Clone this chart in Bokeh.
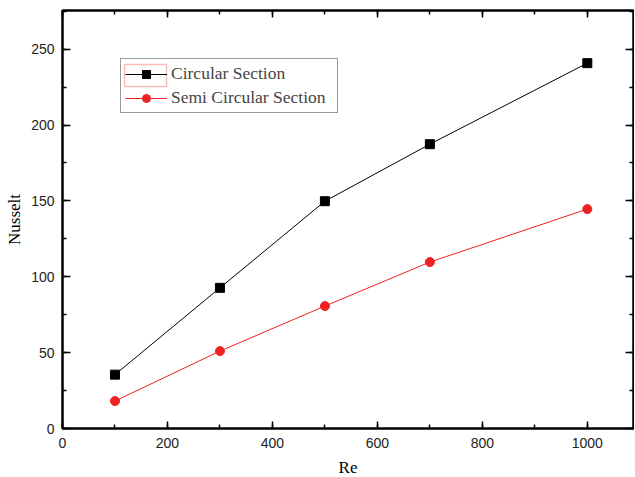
from bokeh.plotting import figure
from bokeh.models import (LinearAxis, SingleIntervalTicker, Legend, LegendItem,
                          BoxAnnotation, Range1d)
from bokeh.embed import file_html
from bokeh.resources import INLINE

re_vals = [100, 300, 500, 700, 1000]
circular = [35.5, 92.7, 149.8, 187.4, 240.8]
semi_circular = [18.1, 51.0, 80.7, 109.7, 144.6]
series_names = ["Circular Section", "Semi Circular Section"]
x_label = "Re"
y_label = "Nusselt"

p = figure(frame_width=571, frame_height=418, output_backend="svg",
           toolbar_location=None, x_range=Range1d(0, 1088), y_range=Range1d(0, 275.5),
           min_border_left=62, min_border_top=10, min_border_right=1, min_border_bottom=48)
p.xaxis.visible = False
p.yaxis.visible = False
p.grid.visible = False
p.outline_line_color = "black"
p.outline_line_width = 2
p.background_fill_color = "white"
p.border_fill_color = "white"

def style(ax, labels=True):
    ax.axis_line_color = "black"
    ax.axis_line_width = 2
    ax.major_tick_in = 7
    ax.major_tick_out = 0
    ax.minor_tick_in = 4
    ax.minor_tick_out = 0
    ax.major_tick_line_width = 1.5
    ax.minor_tick_line_width = 1.5
    ax.major_tick_line_color = "black"
    ax.minor_tick_line_color = "black"
    ax.major_label_text_font = "Liberation Sans"
    ax.major_label_text_font_size = "14px"
    ax.major_label_text_color = "#222222"
    ax.axis_label_text_font = "Liberation Serif"
    ax.axis_label_text_font_size = "17px"
    ax.axis_label_text_font_style = "normal"
    ax.axis_label_text_color = "black"
    if not labels:
        ax.major_label_text_font_size = "0px"
        ax.major_label_text_alpha = 0

xt = lambda: SingleIntervalTicker(interval=200, num_minor_ticks=2)
yt = lambda: SingleIntervalTicker(interval=50, num_minor_ticks=2)

bx = LinearAxis(ticker=xt(), axis_label=x_label)
style(bx)
bx.major_label_standoff = 9
bx.axis_label_standoff = 7
p.add_layout(bx, "below")

ly = LinearAxis(ticker=yt(), axis_label=y_label)
style(ly)
ly.major_tick_in = 8
ly.major_label_standoff = 8
ly.axis_label_standoff = 4
p.add_layout(ly, "left")

tx = LinearAxis(ticker=xt())
style(tx, labels=False)
p.add_layout(tx, "above")
ry = LinearAxis(ticker=yt())
style(ry, labels=False)
ry.major_tick_in = 8
p.add_layout(ry, "right")

l1 = p.line(re_vals, circular, line_color="black", line_width=1)
m1 = p.scatter(re_vals, circular, marker="square", size=9, fill_color="black", line_color="black")
l2 = p.line(re_vals, semi_circular, line_color="#ee2222", line_width=1)
m2 = p.scatter(re_vals, semi_circular, marker="circle", size=9, fill_color="#ee2222", line_color="#ee2222")

legend = Legend(items=[LegendItem(label=series_names[0], renderers=[l1, m1]),
                       LegendItem(label=series_names[1], renderers=[l2, m2])],
                location=(58, 315), glyph_width=42, glyph_height=20, label_height=20,
                label_width=162,
                label_text_font="Liberation Serif", label_text_font_size="17.5px",
                label_standoff=4, spacing=3, padding=4, margin=0,
                border_line_color="#333333", border_line_width=1,
                background_fill_alpha=0)
p.add_layout(legend, "center")

sel = BoxAnnotation(left=62, right=104, top=364, bottom=342,
                    left_units="screen", right_units="screen",
                    top_units="screen", bottom_units="screen",
                    fill_alpha=0, line_color="#ee2222", line_width=1.5,
                    level="overlay")
p.add_layout(sel)

open("out.html", "w").write(file_html(p, INLINE))
